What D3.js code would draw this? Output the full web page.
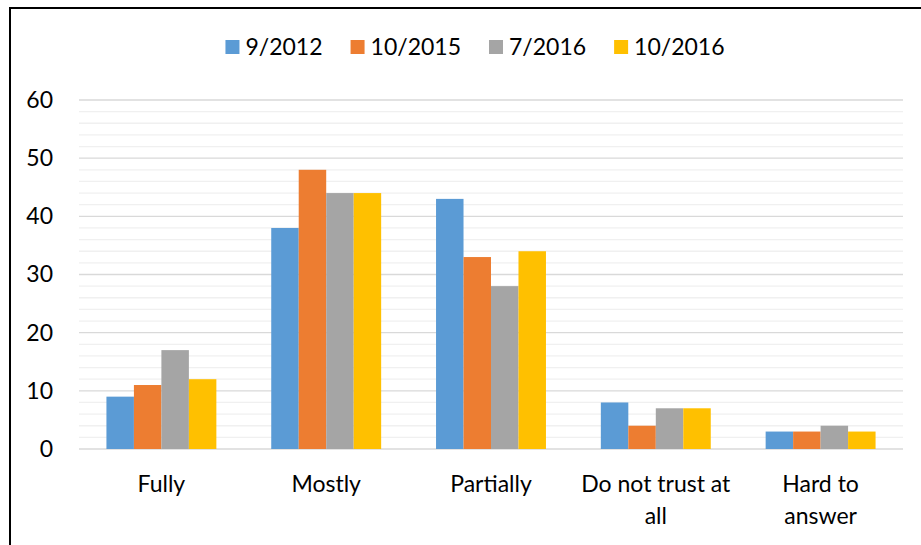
<!DOCTYPE html>
<html>
<head>
<meta charset="utf-8">
<script src="https://cdn.jsdelivr.net/npm/d3@7"></script>
<style>
  body { margin: 0; background: #fff; }
  text { font-family: Lato, "Open Sans", sans-serif; fill: #000; }
</style>
</head>
<body>
<div id="chart"></div>
<script>
const categories = ['Fully', 'Mostly', 'Partially', 'Do not trust at all', 'Hard to answer']
const seriesNames = ['9/2012', '10/2015', '7/2016', '10/2016']
const s2012_9 = [9, 38, 43, 8, 3]
const s2015_10 = [11, 48, 33, 4, 3]
const s2016_7 = [17, 44, 28, 7, 4]
const s2016_10 = [12, 44, 34, 7, 3]
const yTicks = [0, 10, 20, 30, 40, 50, 60]
const colors = ['#5B9BD5', '#ED7D31', '#A5A5A5', '#FFC000']

const allSeries = [s2012_9, s2015_10, s2016_7, s2016_10]

const width = 921
const height = 545
const margin = { left: 79, right: 18, top: 100, bottom: 96 }

const svg = d3.select('#chart')
    .append('svg')
    .attr('width', width)
    .attr('height', height)

// frame (only left and top edges visible in the crop)
svg.append('path')
    .attr('d', `M10,${height} V8 H${width}`)
    .attr('fill', 'none')
    .attr('stroke', '#000')
    .attr('stroke-width', 2)

const xScale = d3.scaleBand()
    .domain(categories)
    .range([margin.left, width - margin.right])
    .paddingInner(0.333)
    .paddingOuter(0.1665)

const xInner = d3.scaleBand()
    .domain(seriesNames)
    .range([0, xScale.bandwidth()])

const yScale = d3.scaleLinear()
    .domain([0, 60])
    .range([height - margin.bottom, margin.top])

// minor grid
svg.append('g')
    .selectAll('line')
    .data(d3.range(0, 61, 2).filter(v => v % 10 !== 0))
    .enter()
    .append('line')
    .attr('x1', margin.left)
    .attr('x2', width - margin.right)
    .attr('y1', d => yScale(d))
    .attr('y2', d => yScale(d))
    .attr('stroke', '#f0f0f0')
    .attr('stroke-width', 1.3)

// major grid
svg.append('g')
    .selectAll('line')
    .data(yTicks)
    .enter()
    .append('line')
    .attr('x1', margin.left)
    .attr('x2', width - margin.right)
    .attr('y1', d => yScale(d))
    .attr('y2', d => yScale(d))
    .attr('stroke', '#d9d9d9')
    .attr('stroke-width', 1.4)

// y axis labels
const yAxis = d3.axisLeft(yScale).tickValues(yTicks).tickSize(0).tickPadding(26)
svg.append('g')
    .attr('transform', `translate(${margin.left},0)`)
    .call(yAxis)
    .call(g => g.select('.domain').remove())
    .selectAll('text')
    .style('font-size', '23px')
    .style('font-family', 'Lato, sans-serif')
    .attr('fill', '#000')

// bars
allSeries.forEach((series, si) => {
    svg.append('g')
        .selectAll('rect')
        .data(series)
        .enter()
        .append('rect')
        .attr('x', (d, i) => xScale(categories[i]) + xInner(seriesNames[si]))
        .attr('y', d => yScale(d))
        .attr('width', xInner.bandwidth())
        .attr('height', d => yScale(0) - yScale(d))
        .attr('fill', colors[si])
})

// category labels (wrapped like Excel does)
const catLines = {
    'Do not trust at all': ['Do not trust at', 'all'],
    'Hard to answer': ['Hard to', 'answer']
}
categories.forEach(c => {
    const lines = catLines[c] || [c]
    const t = svg.append('text')
        .attr('x', xScale(c) + xScale.bandwidth() / 2)
        .attr('y', 492)
        .attr('text-anchor', 'middle')
        .style('font-size', '23px')
    lines.forEach((l, i) => {
        t.append('tspan')
            .attr('x', xScale(c) + xScale.bandwidth() / 2)
            .attr('dy', i === 0 ? 0 : 32)
            .text(l)
    })
})

// legend
const legend = svg.append('g')
const items = seriesNames.map((name, i) => {
    const g = legend.append('g')
    g.append('rect')
        .attr('width', 14)
        .attr('height', 14)
        .attr('y', 40)
        .attr('fill', colors[i])
    const txt = g.append('text')
        .attr('x', 20)
        .attr('y', 55)
        .style('font-size', '23px')
        .text(name)
    return { g, w: 20 + txt.node().getComputedTextLength() }
})
const gap = 28
const total = d3.sum(items, d => d.w) + gap * (items.length - 1)
let lx = 475 - total / 2
items.forEach(it => {
    it.g.attr('transform', `translate(${lx},0)`)
    lx += it.w + gap
})
</script>
</body>
</html>
